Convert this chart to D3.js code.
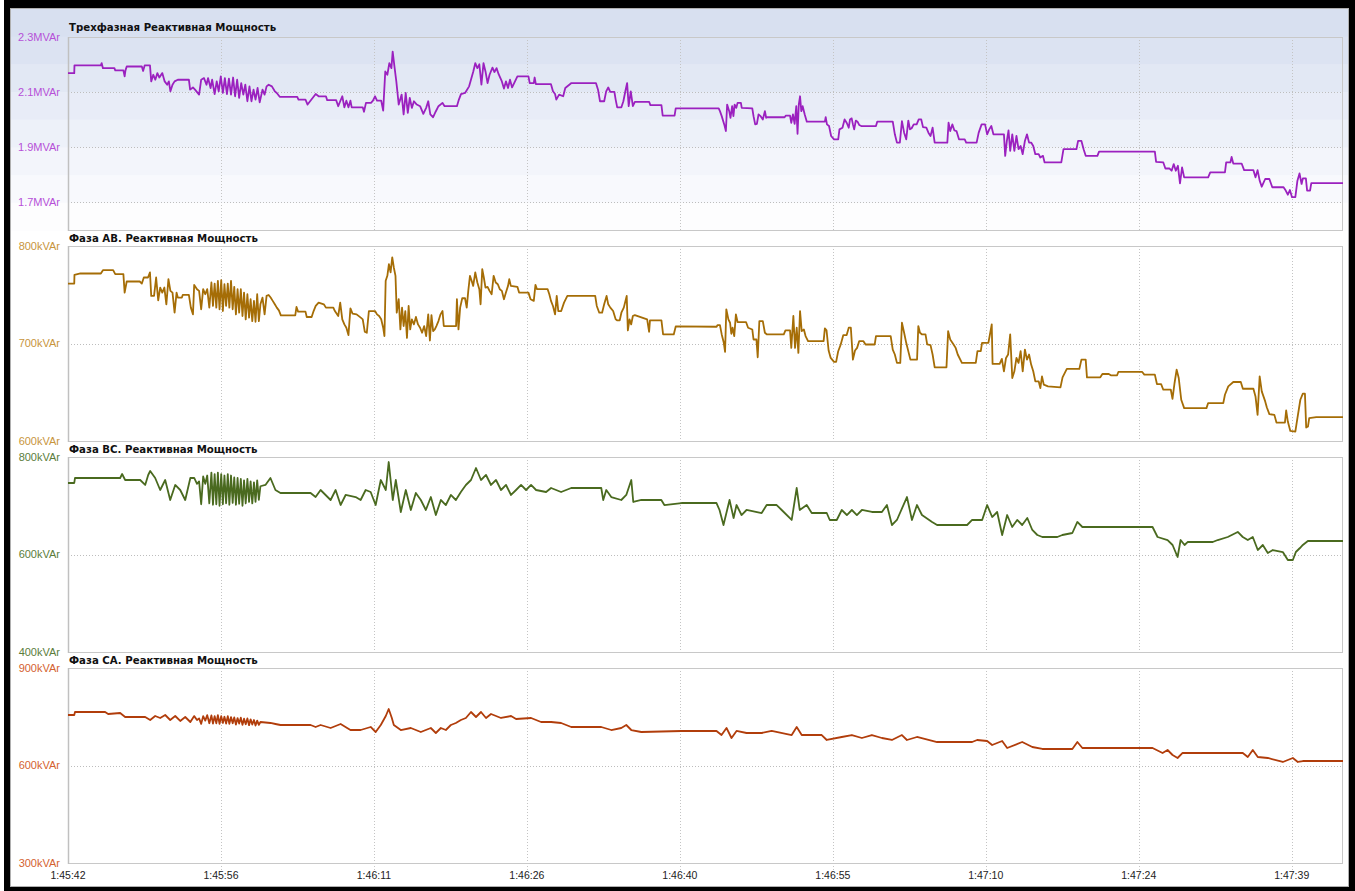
<!DOCTYPE html>
<html><head><meta charset="utf-8">
<script src="https://cdn.jsdelivr.net/npm/d3@7"></script>
<style>html,body{margin:0;padding:0;background:#fff;overflow:hidden}</style>
</head><body><svg id="c" width="1355" height="891"></svg>
<script>
// ---------------- DATA ----------------
const xTickLabels = ["1:45:42","1:45:56","1:46:11","1:46:26","1:46:40","1:46:55","1:47:10","1:47:24","1:47:39"];
const xTickTimes = [0, 14.667, 29.333, 44, 58.667, 73.333, 88, 102.667, 117.333]; // seconds after 1:45:42
const timeSpan = [0, 122.25];

const panelTitles = ["Трехфазная Реактивная Мощность","Фаза AB. Реактивная Мощность","Фаза BC. Реактивная Мощность","Фаза CA. Реактивная Мощность"];
const yDomains = [[1.6, 2.3],[600, 800],[400, 800],[300, 900]];
const yTicks = [[1.7, 1.9, 2.1, 2.3],[600, 700, 800],[400, 600, 800],[300, 600, 900]];
const yTickLabels = [["1.7MVAr","1.9MVAr","2.1MVAr","2.3MVAr"],["600kVAr","700kVAr","800kVAr"],["400kVAr","600kVAr","800kVAr"],["300kVAr","600kVAr","900kVAr"]];

// three-phase reactive power, MVAr  [seconds, value]
const totalQ = [[0,2.169],[0.6,2.169],[0.62,2.197],[3.15,2.197],[3.23,2.205],[3.35,2.187],[4.45,2.187],[4.53,2.179],[5.31,2.179],[5.43,2.157],[5.51,2.179],[5.63,2.193],[7.08,2.193],[7.2,2.177],[7.35,2.197],[7.86,2.197],[7.98,2.139],[8.18,2.163],[8.37,2.145],[8.57,2.169],[8.76,2.153],[9.04,2.169],[9.27,2.139],[9.51,2.127],[9.67,2.139],[9.82,2.103],[10.02,2.127],[10.22,2.139],[10.53,2.145],[11.59,2.145],[11.71,2.109],[11.98,2.117],[12.18,2.109],[12.57,2.091],[12.77,2.145],[13.04,2.151],[13.28,2.127],[13.43,2.151],[13.67,2.115],[13.82,2.145],[14.06,2.093],[14.26,2.139],[14.45,2.103],[14.65,2.157],[14.85,2.097],[15.04,2.151],[15.24,2.093],[15.43,2.149],[15.63,2.091],[15.83,2.153],[16.02,2.085],[16.22,2.145],[16.41,2.079],[16.61,2.133],[16.81,2.091],[17.0,2.127],[17.2,2.067],[17.4,2.121],[17.59,2.067],[17.79,2.109],[17.98,2.073],[18.18,2.115],[18.38,2.063],[18.65,2.109],[18.85,2.091],[19.04,2.121],[19.24,2.127],[19.55,2.121],[19.83,2.103],[20.02,2.097],[20.3,2.083],[21.98,2.083],[22.1,2.073],[22.77,2.073],[22.97,2.055],[23.75,2.093],[24.03,2.085],[24.73,2.085],[24.85,2.071],[25.71,2.071],[25.91,2.049],[26.1,2.067],[26.3,2.085],[26.5,2.045],[26.69,2.069],[26.89,2.045],[27.08,2.069],[27.2,2.045],[28.26,2.045],[28.38,2.029],[28.57,2.061],[29.05,2.061],[29.24,2.069],[29.44,2.085],[29.63,2.069],[30.03,2.069],[30.22,2.033],[30.42,2.175],[30.62,2.163],[30.81,2.205],[31.01,2.187],[31.13,2.247],[31.32,2.187],[31.48,2.139],[31.71,2.055],[31.99,2.091],[32.18,2.019],[32.38,2.097],[32.58,2.025],[32.77,2.079],[32.97,2.043],[33.17,2.067],[33.44,2.055],[33.76,2.049],[34.07,2.021],[34.34,2.043],[34.54,2.067],[34.74,2.019],[35.01,2.009],[35.25,2.029],[35.52,2.049],[35.91,2.061],[36.11,2.049],[37.29,2.049],[37.48,2.073],[37.68,2.093],[38.07,2.097],[38.46,2.121],[38.86,2.175],[39.05,2.205],[39.25,2.187],[39.44,2.201],[39.64,2.127],[39.84,2.205],[40.03,2.175],[40.23,2.133],[40.42,2.163],[40.7,2.189],[40.89,2.173],[41.09,2.187],[41.29,2.165],[41.6,2.139],[41.8,2.113],[41.99,2.139],[42.19,2.115],[42.38,2.145],[42.58,2.117],[42.86,2.139],[43.09,2.157],[44.15,2.157],[44.27,2.133],[44.66,2.133],[44.74,2.153],[44.86,2.129],[46.31,2.129],[46.5,2.103],[46.7,2.093],[46.82,2.073],[47.09,2.091],[47.48,2.085],[47.68,2.115],[48.27,2.133],[50.62,2.133],[50.82,2.109],[51.01,2.067],[51.41,2.067],[51.6,2.103],[51.8,2.117],[51.99,2.101],[52.39,2.101],[52.51,2.073],[52.66,2.045],[53.06,2.045],[53.25,2.067],[53.45,2.105],[53.61,2.133],[53.76,2.049],[53.96,2.103],[54.16,2.049],[54.35,2.065],[55.72,2.065],[55.84,2.053],[56.9,2.053],[57.02,2.015],[58.16,2.015],[58.27,2.041],
[62.39,2.041],[62.51,2.031],[62.68,2.013],[62.92,1.983],[63.08,1.959],[63.2,2.055],[63.4,2.031],[63.52,2.007],[63.68,2.049],[63.8,2.013],[63.92,2.055],[64.08,2.043],[64.2,2.061],[64.52,2.061],[64.6,2.043],[65.61,2.041],[65.73,2.013],[65.89,1.983],[66.05,1.985],[66.21,2.019],[66.41,2.013],[66.62,2.001],[66.82,2.031],[66.94,2.007],[67.02,2.009],[68.71,2.009],[68.83,2.015],[69.23,2.015],[69.35,1.989],[69.51,2.019],[69.67,1.985],[69.83,2.049],[69.95,1.949],[70.07,2.055],[70.19,2.085],[70.31,2.031],[70.44,2.049],[70.64,2.019],[70.84,1.993],[72.57,1.993],[72.65,2.009],[72.77,1.983],[72.97,1.977],[73.17,1.941],[73.45,1.929],[73.85,1.929],[73.97,1.965],[74.26,1.971],[74.46,2.001],[74.66,1.989],[74.86,1.971],[74.98,2.001],[75.14,2.005],[75.26,1.983],[75.38,1.965],[75.54,1.997],[75.7,1.993],[75.86,1.981],[76.06,1.977],[77.47,1.977],[77.59,1.993],[79.08,1.993],[79.28,1.947],[79.48,1.917],[79.76,1.917],[79.96,1.995],[80.17,1.953],[80.37,1.929],[80.57,1.997],[80.73,1.965],[80.89,1.969],[81.09,1.983],[81.37,1.983],[81.57,2.001],[81.81,2.001],[81.98,1.973],[82.3,1.971],[82.5,1.953],[82.7,1.941],[82.9,1.971],[83.1,1.917],[84.31,1.917],[84.43,1.989],[84.59,1.959],[84.79,1.983],[84.99,1.961],[85.19,1.959],[85.43,1.929],[85.98,1.929],[86.12,1.917],[87.12,1.917],[87.32,1.953],[87.6,1.983],[87.93,1.983],[88.13,1.947],[88.33,1.965],[88.53,1.977],[88.73,1.947],[89.74,1.947],[89.86,1.869],[90.02,1.923],[90.18,1.961],[90.34,1.887],[90.54,1.947],[90.74,1.887],[90.94,1.941],[91.14,1.893],[91.34,1.905],[91.54,1.875],[91.75,1.923],[91.95,1.947],[92.15,1.917],[92.35,1.917],[92.55,1.905],[92.75,1.875],[93.07,1.875],[93.23,1.863],[93.48,1.869],[93.64,1.845],[95.24,1.845],[95.45,1.893],[96.69,1.893],[96.85,1.923],[97.17,1.923],[97.38,1.893],[97.58,1.869],[98.7,1.869],[98.86,1.884],[104.21,1.884],[104.33,1.847],[105.02,1.845],[105.22,1.823],[105.62,1.823],[105.82,1.815],[106.02,1.839],[106.22,1.815],[106.42,1.833],[106.62,1.769],[106.82,1.827],[107.02,1.791],[109.32,1.791],[109.52,1.809],[110.93,1.809],[111.05,1.845],[111.45,1.845],[111.57,1.865],[111.73,1.841],[112.53,1.841],[112.77,1.817],[113.66,1.817],[113.86,1.791],[114.06,1.817],[114.26,1.779],[114.46,1.757],[114.79,1.785],[115.19,1.785],[115.47,1.755],[116.55,1.755],[116.76,1.743],[116.96,1.728],[117.16,1.745],[117.36,1.719],[117.68,1.719],[117.88,1.779],[118.08,1.805],[118.28,1.767],[118.4,1.787],[118.69,1.787],[118.81,1.743],[119.09,1.743],[119.21,1.770],[122.3,1.770]];

// phase AB, kVAr
const phaseAB = [[0,761.5],[0.6,761.5],[0.62,770.4],[1.19,771.8],[3.15,771.8],[3.35,775.2],[4.33,775.2],[4.53,771.1],[5.31,771.1],[5.43,752.2],[5.63,763.6],[6.88,763.6],[7.08,761.5],[7.27,767.7],[7.67,767.7],[7.86,772.9],[7.98,748.8],[8.25,748.8],[8.45,767.7],[8.65,744.3],[8.84,757.4],[9.04,752.2],[9.24,757.4],[9.43,740.2],[9.63,766.0],[9.82,754.0],[10.02,752.2],[10.22,731.6],[10.41,752.2],[10.53,747.1],[10.92,747.1],[11.0,749.8],[11.59,749.8],[11.78,736.8],[11.98,729.9],[12.1,760.1],[12.37,755.7],[12.57,754.0],[12.77,735.1],[12.96,755.7],[13.16,750.5],[13.35,755.7],[13.55,736.8],[13.75,762.6],[13.9,738.5],[14.06,761.5],[14.22,736.8],[14.37,764.3],[14.53,735.1],[14.69,765.0],[14.85,733.3],[15.0,760.8],[15.16,738.5],[15.32,761.5],[15.47,736.8],[15.63,764.3],[15.79,735.1],[15.94,758.1],[16.1,729.9],[16.26,755.7],[16.41,731.6],[16.57,755.7],[16.73,728.2],[16.88,752.2],[17.04,724.8],[17.2,750.5],[17.36,726.5],[17.51,745.4],[17.67,723.0],[17.83,743.7],[17.98,722.3],[18.14,750.5],[18.3,723.0],[18.45,740.2],[18.65,747.1],[18.85,729.9],[19.04,748.8],[19.24,749.8],[19.43,747.1],[19.63,743.7],[19.83,740.2],[20.02,736.8],[20.22,734.0],[20.41,728.9],[21.79,728.9],[21.91,737.5],[22.06,732.7],[22.77,732.7],[22.89,727.2],[23.36,727.2],[23.55,733.3],[23.75,738.5],[24.03,741.9],[24.53,740.2],[24.73,736.8],[25.44,736.8],[25.59,733.3],[25.91,728.2],[26.1,741.9],[26.3,724.8],[26.5,719.6],[26.69,716.2],[26.89,708.6],[27.08,736.0],[27.28,730.6],[27.67,729.9],[28.07,726.5],[28.26,724.8],[28.46,712.0],[28.65,711.0],[28.85,733.3],[29.44,733.3],[29.63,729.9],[29.83,728.2],[30.03,724.8],[30.22,716.2],[30.34,707.6],[30.46,764.3],[30.62,769.4],[30.77,781.4],[30.93,772.9],[31.09,788.3],[31.24,778.0],[31.4,769.4],[31.52,731.6],[31.71,745.4],[31.87,714.4],[32.03,736.8],[32.18,717.9],[32.34,733.3],[32.5,705.8],[32.66,738.5],[32.81,714.4],[32.97,724.8],[33.17,719.6],[33.36,727.2],[33.56,719.6],[33.76,716.2],[33.95,711.0],[34.15,717.9],[34.34,707.6],[34.54,729.9],[34.7,703.1],[34.85,729.2],[35.01,712.7],[35.17,714.4],[35.32,717.9],[35.52,723.0],[35.72,729.9],[35.91,733.3],[36.03,717.9],[37.21,717.9],[37.29,745.4],[37.44,714.4],[37.6,736.8],[37.8,746.4],[38.07,746.4],[38.23,736.8],[38.38,754.0],[38.54,769.4],[38.7,764.3],[38.85,759.1],[39.05,772.9],[39.25,762.6],[39.44,755.7],[39.56,740.2],[39.72,776.3],[39.87,767.7],[40.03,757.4],[40.23,758.1],[40.42,754.0],[40.62,750.5],[40.81,769.4],[41.01,762.6],[41.21,760.8],[41.4,755.7],[41.6,754.0],[41.8,745.4],[41.99,752.2],[42.19,759.1],[42.31,766.0],[42.46,759.1],[43.09,758.1],[43.25,752.2],[44.15,752.2],[44.35,745.4],[44.66,743.7],[44.82,760.1],[44.97,755.7],[45.99,755.7],[46.15,750.5],[46.31,743.7],[46.5,738.5],[46.7,729.9],[46.86,748.8],[47.01,733.3],[47.29,733.3],[47.56,741.9],[47.88,748.8],[50.55,748.8],[50.7,738.5],[50.94,731.6],[51.21,731.6],[51.41,740.2],[51.64,748.8],[51.8,740.2],[52.0,736.8],[52.27,733.3],[52.51,724.8],[52.67,723.7],[52.9,723.7],[53.06,731.6],[53.29,736.8],[53.57,748.8],[53.68,713.4],[53.84,724.8],[54.0,719.6],[54.16,728.2],[54.35,729.2],[55.53,724.8],[55.72,712.0],[55.8,723.7],[56.9,723.7],[57.06,709.3],[58.08,709.3],[58.27,717.5],
[62.19,717.2],[62.27,718.9],[62.51,718.9],[62.68,709.3],[62.88,700.7],[63.0,691.4],[63.12,735.1],[63.32,724.8],[63.48,721.3],[63.6,710.0],[63.72,716.2],[63.88,707.6],[64.04,729.9],[64.2,722.0],[65.01,722.0],[65.21,716.2],[65.61,714.4],[65.73,704.1],[66.01,704.1],[66.13,685.9],[66.29,723.0],[66.62,723.0],[66.82,711.0],[67.02,709.3],[68.63,709.3],[68.79,713.4],[69.23,713.4],[69.35,695.5],[69.55,728.2],[69.71,695.5],[69.87,716.2],[70.03,690.4],[70.19,733.3],[70.35,712.7],[70.56,714.4],[70.72,707.6],[70.96,702.4],[72.45,702.4],[72.57,715.5],[72.73,713.4],[72.93,692.8],[73.13,685.2],[73.45,681.1],[73.65,681.1],[73.85,692.1],[74.09,699.0],[74.34,708.6],[74.66,708.6],[74.86,716.2],[75.06,716.2],[75.26,683.5],[75.46,692.8],[75.66,695.5],[75.86,702.4],[76.27,702.4],[76.47,699.0],[77.35,699.0],[77.47,707.6],[78.88,707.6],[79.08,693.8],[79.28,688.7],[79.48,680.1],[79.8,680.1],[79.96,721.3],[80.17,711.0],[80.37,700.7],[80.61,690.4],[80.77,683.5],[81.41,683.5],[81.53,717.9],[81.69,711.0],[81.89,709.3],[82.22,709.3],[82.38,699.0],[82.7,698.3],[82.9,688.7],[83.1,675.6],[84.23,675.6],[84.39,712.7],[84.59,704.1],[84.91,699.0],[85.11,695.5],[85.31,688.7],[85.71,680.1],[87.04,680.1],[87.2,692.1],[87.52,692.1],[87.64,700.7],[88.25,700.7],[88.41,710.0],[88.57,719.6],[88.65,679.1],[89.33,679.1],[89.54,684.2],[89.74,671.5],[89.94,685.2],[90.14,688.7],[90.34,709.3],[90.54,664.6],[90.74,671.5],[90.94,685.2],[91.14,680.1],[91.34,692.1],[91.54,671.5],[91.75,693.8],[91.95,683.5],[92.15,688.7],[92.35,678.4],[92.55,671.5],[92.75,661.2],[93.07,661.2],[93.23,654.3],[93.39,666.3],[93.56,657.8],[93.96,656.0],[95.16,655.0],[95.36,665.3],[95.77,673.9],[96.97,673.9],[97.17,683.5],[97.58,683.5],[97.7,665.3],[98.98,665.3],[99.18,668.7],[99.79,668.7],[99.99,667.4],[100.59,667.4],[100.71,670.8],[103.0,670.8],[103.2,668.1],[104.21,668.1],[104.41,658.4],[104.81,658.4],[105.02,652.6],[105.74,652.6],[105.9,643.3],[106.1,659.5],[106.3,673.2],[106.5,664.6],[106.74,642.3],[107.02,633.7],[109.16,633.7],[109.32,638.9],[110.77,638.9],[110.93,647.4],[111.25,656.0],[111.73,660.5],[112.45,660.5],[112.65,653.6],[113.66,653.6],[113.86,645.7],[114.06,626.8],[114.26,666.3],[114.46,650.9],[114.79,640.6],[114.95,634.4],[115.19,627.5],[115.67,626.8],[115.87,618.9],[116.68,618.9],[116.8,631.3],[116.96,619.9],[117.2,610.3],[117.68,609.6],[117.88,623.4],[118.16,642.3],[118.4,648.5],[118.6,648.5],[118.72,613.8],[118.89,614.8],[119.01,623.4],[119.69,624.4],[122.3,624.4]];

// phase BC, kVAr
const phaseBC = [[0,746.7],[0.6,746.7],[0.67,756.9],[5.0,756.9],[5.19,765.1],[5.48,752.8],[6.92,752.8],[7.4,742.6],[7.69,763.1],[7.88,771.3],[8.36,756.9],[8.84,732.3],[9.32,752.8],[9.8,711.8],[10.28,742.6],[10.76,732.3],[11.24,711.8],[11.73,756.9],[12.1,757],[12.37,745],[12.57,750],[12.77,703],[12.96,760],[13.16,745],[13.35,762],[13.55,705],[13.75,768],[13.9,702],[14.06,765],[14.22,703],[14.37,768],[14.53,700],[14.69,765],[14.85,703],[15.0,762],[15.16,705],[15.32,765],[15.47,702],[15.63,762],[15.79,706],[15.94,758],[16.1,702],[16.26,757],[16.41,704],[16.57,755],[16.73,700],[16.88,752],[17.04,705],[17.2,755],[17.36,708],[17.51,750],[17.67,705],[17.83,748],[17.98,708],[18.14,752],[18.3,712],[18.45,740],[18.93,742.6],[19.41,756.9],[19.89,732.3],[20.37,726.2],[23.26,726.2],[23.74,717.9],[24.22,732.3],[25.18,711.8],[25.66,732.3],[26.14,701.5],[26.62,722.1],[27.58,717.9],[28.06,711.8],[28.54,732.3],[29.02,728.2],[29.5,701.5],[29.99,752.8],[30.47,732.3],[30.75,789.7],[31.14,711.8],[31.43,752.8],[31.91,687.2],[32.39,732.3],[32.87,691.3],[33.35,726.2],[33.83,711.8],[34.31,691.3],[34.79,717.9],[35.27,681.0],[35.75,711.8],[36.23,701.5],[36.71,722.1],[37.19,711.8],[37.67,728.2],[38.15,742.6],[38.64,752.8],[39.12,777.4],[39.6,752.8],[40.08,763.1],[40.56,742.6],[41.04,752.8],[41.52,732.3],[42.0,742.6],[42.48,722.1],[42.96,732.3],[43.44,742.6],[43.92,732.3],[44.4,742.6],[44.88,732.3],[45.84,728.2],[46.32,736.4],[47.28,728.2],[48.25,736.4],[51.13,736.4],[51.32,711.8],[51.61,732.3],[52.09,717.9],[53.05,711.8],[53.53,722.1],[54.01,752.8],[54.2,707.7],[54.97,711.8],[56.89,711.8],[57.18,701.5],[58.82,705.6],[62.18,705.6],[62.47,691.3],[62.85,660.5],[63.43,711.8],[63.82,674.9],[64.1,701.5],[64.58,681.0],[65.06,691.3],[66.51,685.1],[66.99,701.5],[67.95,701.5],[68.43,691.3],[69.39,670.8],[69.87,736.4],[70.16,691.3],[70.83,701.5],[71.31,685.1],[72.75,685.1],[73.04,670.8],[73.71,670.8],[74.19,691.3],[74.68,681.0],[75.16,691.3],[75.64,681.0],[76.12,691.3],[77.08,687.2],[78.04,687.2],[78.52,701.5],[79.0,660.5],[79.48,670.8],[80.44,717.9],[80.92,670.8],[81.4,701.5],[81.88,681.0],[82.85,666.7],[83.33,660.5],[86.21,660.5],[86.69,670.8],[87.65,670.8],[88.13,701.5],[88.61,676.9],[89.09,687.2],[89.57,640.0],[90.05,681.0],[90.53,656.4],[91.01,670.8],[91.49,660.5],[91.98,674.9],[92.46,650.3],[92.94,640.0],[93.42,635.9],[94.86,635.9],[95.34,640.0],[96.3,644.1],[96.78,666.7],[97.26,656.4],[103.99,656.4],[104.47,635.9],[105.43,629.7],[105.91,619.5],[106.39,594.9],[106.68,629.7],[107.06,619.5],[107.35,625.6],[109.76,625.6],[110.24,629.7],[111.2,635.9],[112.16,646.2],[112.64,635.9],[113.12,629.7],[113.6,635.9],[114.08,609.2],[114.56,619.5],[115.04,603.1],[115.52,609.2],[116.48,605.1],[116.96,588.7],[117.44,588.7],[117.73,605.1],[118.12,613.3],[118.4,619.5],[118.88,627.7],[122.3,627.7]];

// phase CA, kVAr
const phaseCA = [[0,755.4],[0.6,755.4],[0.67,764.6],[3.56,764.6],[3.85,758.5],[5.0,761.5],[5.48,749.2],[7.4,749.2],[7.88,740.0],[8.36,752.3],[8.84,746.2],[9.32,755.4],[9.8,740],[10.28,752.3],[10.76,737],[11.24,749.2],[11.73,733.8],[12.1,752],[12.37,740],[12.57,745],[12.77,728],[12.96,752],[13.16,738],[13.35,755],[13.55,730],[13.75,754],[13.9,729],[14.06,752],[14.22,730],[14.37,755],[14.53,728],[14.69,752],[14.85,731],[15.0,750],[15.16,729],[15.32,752],[15.47,728],[15.63,749],[15.79,730],[15.94,748],[16.1,726],[16.26,746],[16.41,729],[16.57,747],[16.73,725],[16.88,744],[17.04,727],[17.2,745],[17.36,724],[17.51,742],[17.67,726],[17.83,740],[17.98,723],[18.14,738],[18.3,725],[18.45,733.8],[19.41,730.8],[19.89,727.7],[20.37,724.6],[23.26,724.6],[23.74,718.5],[24.22,724.6],[25.18,715.4],[26.14,727.7],[27.08,709.2],[28.06,709.2],[29.02,718.5],[29.5,703.1],[29.99,724.6],[30.47,752.3],[30.75,773.8],[31.05,746.2],[31.24,724.6],[31.91,709.2],[32.87,715.4],[33.83,703.1],[34.79,715.4],[35.27,700.0],[35.75,715.4],[36.23,709.2],[36.71,724.6],[37.19,730.8],[37.67,740.0],[38.15,746.2],[38.64,764.6],[39.12,749.2],[39.6,764.6],[40.08,746.2],[40.56,758.5],[41.52,746.2],[42.48,752.3],[42.96,743.1],[44.4,746.2],[45.36,733.8],[46.32,733.8],[47.28,730.8],[48.25,718.5],[51.13,718.5],[52.09,709.2],[53.05,715.4],[53.53,724.6],[54.01,709.2],[54.97,703.1],[58.82,706.2],[62.18,706.2],[62.66,693.8],[63.14,715.4],[63.62,684.6],[64.1,706.2],[65.06,700.0],[66.51,700.0],[67.47,706.2],[69.39,693.8],[69.87,718.5],[70.35,693.8],[72.27,693.8],[72.75,678.5],[74.19,687.7],[75.16,693.8],[76.12,684.6],[77.08,693.8],[78.04,684.6],[79.0,678.5],[79.96,693.8],[80.44,678.5],[81.4,687.7],[83.33,672.3],[86.69,672.3],[87.17,678.5],[88.13,675.4],[88.61,663.1],[89.57,675.4],[90.05,653.8],[91.49,672.3],[92.46,656.9],[93.42,650.8],[96.3,650.8],[96.78,672.3],[97.26,653.8],[103.99,653.8],[104.95,638.5],[105.43,647.7],[105.91,632.3],[106.39,623.1],[106.87,638.5],[112.64,638.5],[113.12,626.2],[113.6,647.7],[114.08,626.2],[115.04,623.1],[116.48,610.8],[117.44,623.1],[117.92,610.8],[118.4,613.8],[122.3,613.8]];

const seriesList = [totalQ, phaseAB, phaseBC, phaseCA];

// ---------------- LAYOUT / STYLE ----------------
const plotLeft = 68, plotRight = 1343;
const layout = [{top:37,bottom:230,titleY:31},{top:246,bottom:441,titleY:242},{top:457,bottom:652,titleY:453},{top:668,bottom:863,titleY:664}];
const lineColors = ["#9b21bf","#a56d06","#4a6a1f","#b13d0b"];
const labelColors = ["#b650d8","#c8953c","#5b7d3b","#d4622f"];
const bandColors = ["#d8e0f0","#dce3f2","#e2e8f4","#e8ecf7","#edf1f9","#f3f5fb","#f8f9fd","#fdfdfe"];

const svg = d3.select("#c");
svg.append("rect").attr("x",0).attr("y",0).attr("width",1355).attr("height",891).attr("fill","#fff");
svg.append("rect").attr("x",4).attr("y",0).attr("width",1351).attr("height",891).attr("fill","#000");
svg.append("rect").attr("x",10.5).attr("y",8.5).attr("width",1338).attr("height",878).attr("fill","#fff").attr("stroke","#b0b0b0");

const bandTop = 9, bandBottom = 230.5, bandH = (bandBottom - bandTop) / bandColors.length;
bandColors.forEach((c,i)=>{
  svg.append("rect").attr("x",11).attr("y",bandTop + i*bandH).attr("width",1337).attr("height",bandH+0.5).attr("fill",c);
});

const x = d3.scaleLinear().domain(timeSpan).range([plotLeft, plotRight]);
const defs = svg.append("defs");

layout.forEach((L, i) => {
  const y = d3.scaleLinear().domain(yDomains[i]).range([L.bottom, L.top]);
  const g = svg.append("g");

  g.selectAll(".hg").data(yTicks[i]).enter().append("line")
    .attr("x1", plotLeft).attr("x2", plotRight)
    .attr("y1", d => Math.round(y(d)) + 0.5).attr("y2", d => Math.round(y(d)) + 0.5)
    .attr("stroke", "#bdbdbd").attr("stroke-dasharray", "1,2");
  const vt = xTickTimes.slice(1);
  g.selectAll(".vg").data(vt).enter().append("line")
    .attr("x1", d => Math.round(x(d)) + 0.5).attr("x2", d => Math.round(x(d)) + 0.5)
    .attr("y1", L.top).attr("y2", i === 3 ? L.bottom + 7 : L.bottom)
    .attr("stroke", "#c4c4c4").attr("stroke-dasharray", "1,2");

  g.append("rect").attr("x", plotLeft + 0.5).attr("y", L.top + 0.5)
    .attr("width", plotRight - plotLeft - 1).attr("height", L.bottom - L.top)
    .attr("fill", "none").attr("stroke", "#c8c8c8");
  g.append("line").attr("x1", plotLeft + 0.5).attr("x2", plotLeft + 0.5).attr("y1", L.top).attr("y2", L.bottom + 1)
    .attr("stroke", "#c0c0c0").attr("stroke-width", 1.5);

  g.selectAll(".yl").data(yTicks[i]).enter().append("text")
    .attr("x", 60).attr("y", d => y(d)).attr("dy", "0.36em")
    .attr("text-anchor", "end")
    .attr("font-family", "'Liberation Sans', Arial, sans-serif").attr("font-size", "11px")
    .attr("fill", labelColors[i])
    .text((d, k) => yTickLabels[i][k]);

  g.append("text").attr("x", 69).attr("y", L.titleY)
    .attr("font-family", "'DejaVu Sans', Verdana, sans-serif").attr("font-weight", "bold")
    .attr("font-size", "10.2px").attr("fill", "#111").text(panelTitles[i]);

  defs.append("clipPath").attr("id", "clip" + i).append("rect")
    .attr("x", plotLeft).attr("y", L.top - 1).attr("width", plotRight - plotLeft).attr("height", L.bottom - L.top + 2);
  const line = d3.line().x(d => x(d[0])).y(d => y(d[1]));
  g.append("path").datum(seriesList[i]).attr("d", line)
    .attr("clip-path", "url(#clip" + i + ")")
    .attr("fill", "none").attr("stroke", lineColors[i]).attr("stroke-width", 1.8)
    .attr("stroke-linejoin", "round");
});

svg.selectAll(".xl").data(xTickTimes).enter().append("text")
  .attr("x", d => x(d)).attr("y", 879)
  .attr("text-anchor", "middle")
  .attr("font-family", "'Liberation Sans', Arial, sans-serif").attr("font-size", "10.5px")
  .attr("fill", "#222")
  .text((d, k) => xTickLabels[k]);
</script>
</body></html>
